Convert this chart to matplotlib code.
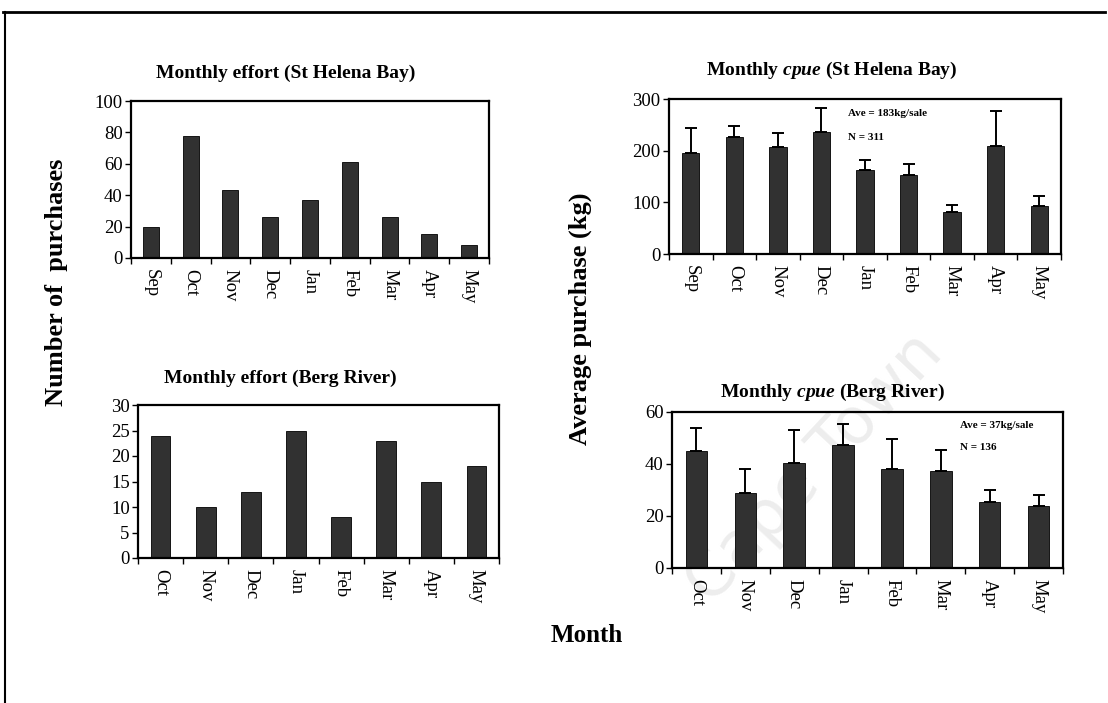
import matplotlib
matplotlib.use("Agg")
import matplotlib.pyplot as plt
from matplotlib.lines import Line2D

plt.rcParams['font.family'] = ['Liberation Serif', 'DejaVu Serif']
plt.rcParams['mathtext.fontset'] = 'custom'
plt.rcParams['mathtext.rm'] = 'Liberation Serif:bold'
plt.rcParams['mathtext.it'] = 'Liberation Serif:italic:bold'

# St Helena Bay: Sep - May
shb_months = ["Sep", "Oct", "Nov", "Dec", "Jan", "Feb", "Mar", "Apr", "May"]
shb_effort = [20, 78, 43, 26, 37, 61, 26, 15, 8]
shb_cpue = [196, 226, 208, 236, 162, 152, 81, 209, 92]
shb_cpue_se = [47, 22, 27, 46, 20, 22, 13, 67, 20]

# Berg River: Oct - May
berg_months = ["Oct", "Nov", "Dec", "Jan", "Feb", "Mar", "Apr", "May"]
berg_effort = [24, 10, 13, 25, 8, 23, 15, 18]
berg_cpue = [45, 29, 40.5, 47.5, 38, 37.5, 25.5, 24]
berg_cpue_se = [9, 9, 12.5, 8, 11.5, 8, 4.5, 4]

W, H = 1108, 703
fig = plt.figure(figsize=(W / 100, H / 100), dpi=100)


def rect(left, top, right, bottom):
    return [left / W, 1 - bottom / H, (right - left) / W, (bottom - top) / H]


def fxy(x, y):
    return x / W, 1 - y / H


BAR = '#313131'


def bar_panel(r, labels, vals, ymax, step, width, err=None):
    ax = fig.add_axes(r)
    ax.set_facecolor('none')
    ax.set_zorder(1)
    x = list(range(len(labels)))
    ax.bar(x, vals, width=width, color=BAR, edgecolor='black', linewidth=0.6, zorder=2)
    if err is not None:
        ax.errorbar(x, vals, yerr=[[0] * len(err), err], fmt='none', ecolor='black',
                    elinewidth=1.4, capsize=4, capthick=1.4, zorder=3)
    ax.set_xlim(-0.5, len(labels) - 0.5)
    ax.set_ylim(0, ymax)
    ax.set_yticks(range(0, ymax + 1, step))
    ax.set_xticks(x)
    ax.set_xticklabels(labels, rotation=270, fontsize=13.5)
    ax.set_xticks([i - 0.5 for i in range(len(labels) + 1)], minor=True)
    ax.tick_params(axis='x', which='major', length=0, pad=8)
    ax.tick_params(axis='x', which='minor', length=4, width=1, direction='out')
    ax.tick_params(axis='y', length=4, width=1, labelsize=13.5, pad=2)
    for s in ax.spines.values():
        s.set_linewidth(1.6)
    return ax


ax1 = bar_panel(rect(131, 101, 489, 258), shb_months, shb_effort, 100, 20, 0.4)
ax2 = bar_panel(rect(669, 99, 1061, 254), shb_months, shb_cpue, 300, 100, 0.4, shb_cpue_se)
ax3 = bar_panel(rect(138, 405, 499, 558), berg_months, berg_effort, 30, 5, 0.44)
ax4 = bar_panel(rect(672, 412, 1063, 568), berg_months, berg_cpue, 60, 20, 0.44, berg_cpue_se)

# panel titles
fig.text(*fxy(286, 73), "Monthly effort (St Helena Bay)", ha='center', va='center',
         fontsize=14, fontweight='bold')
fig.text(*fxy(832, 70), r"Monthly $\mathit{cpue}$ (St Helena Bay)", ha='center', va='center',
         fontsize=14, fontweight='bold')
fig.text(*fxy(280, 378), "Monthly effort (Berg River)", ha='center', va='center',
         fontsize=14, fontweight='bold')
fig.text(*fxy(832, 392), r"Monthly $\mathit{cpue}$ (Berg River)", ha='center', va='center',
         fontsize=14, fontweight='bold')

# averages
fig.text(*fxy(848, 114), "Ave = 183kg/sale", ha='left', va='center', fontsize=8, fontweight='bold')
fig.text(*fxy(848, 137), "N = 311", ha='left', va='center', fontsize=8, fontweight='bold')
fig.text(*fxy(960, 426), "Ave = 37kg/sale", ha='left', va='center', fontsize=8, fontweight='bold')
fig.text(*fxy(960, 447), "N = 136", ha='left', va='center', fontsize=8, fontweight='bold')

# shared axis labels
fig.text(*fxy(57, 282), "Number of  purchases", rotation=90, ha='center', va='center',
         fontsize=19, fontweight='bold')
fig.text(*fxy(580, 319), "Average purchase (kg)", rotation=90, ha='center', va='center',
         fontsize=19, fontweight='bold')
fig.text(*fxy(587, 636), "Month", ha='center', va='center', fontsize=18, fontweight='bold')

# page border
fig.add_artist(Line2D([3 / W, 1105 / W], [1 - 12 / H, 1 - 12 / H], color='black', lw=2))
fig.add_artist(Line2D([5 / W, 5 / W], [1 - 12 / H, 0], color='black', lw=1.5))

# library watermark, behind the panels
fig.text(*fxy(945, 355), "Cape Town", rotation=47, rotation_mode='anchor',
         ha='right', va='baseline', fontsize=46, color='#ededed', family='DejaVu Sans',
         zorder=-1)

fig.savefig("out.png", dpi=100)
